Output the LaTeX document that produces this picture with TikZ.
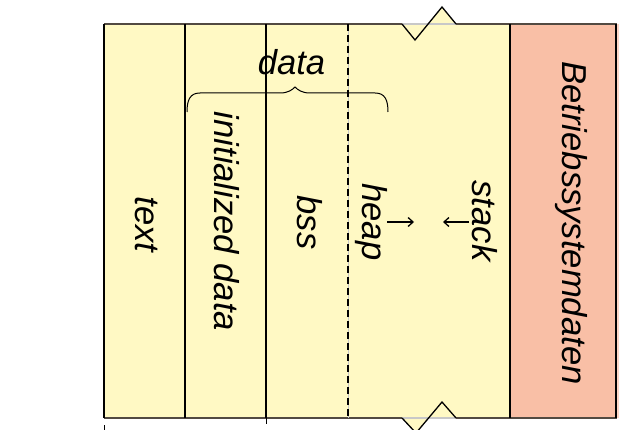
\documentclass[tikz,border=0pt]{standalone}
\usepackage{fontspec}
\setmainfont{Liberation Sans}
\usetikzlibrary{arrows.meta}
\definecolor{memyellow}{RGB}{255,249,196}
\definecolor{memred}{RGB}{249,191,166}
\definecolor{memredlight}{RGB}{252,214,198}
\definecolor{borderdark}{RGB}{82,74,66}
\definecolor{breakgray}{RGB}{200,200,200}
\begin{document}
\begin{tikzpicture}[x=1pt,y=-1pt,
  lbl/.style={font=\fontsize{34.6}{40}\selectfont\itshape, inner sep=0pt, rotate=-90, anchor=base},
  hlbl/.style={font=\fontsize{34.6}{40}\selectfont\itshape, inner sep=0pt, anchor=base},
  colline/.style={line width=1.3pt, black},
  border/.style={line width=1.6pt, borderdark},
  zig/.style={line width=1.3pt, black, line join=miter},
  growarrow/.style={line width=1.3pt, -{Straight Barb[length=5pt,width=9pt]}}]
\useasboundingbox (0,0) rectangle (628,430);
% fills
\fill[memyellow] (104,24) rectangle (510,418);
\fill[memyellow] (428.1,24) -- (442,7) -- (456,24) -- cycle;
\fill[memyellow] (402,418) -- (416,433) -- (428.6,418) -- cycle;
\fill[memred] (510,24) rectangle (616,418);
\fill[memredlight] (616,24) rectangle (619,418);
% borders
\draw[border] (104,24) -- (402,24);
\draw[line width=1.6pt, breakgray] (402,24) -- (456,24);
\draw[border] (456,24) -- (617,24);
\draw[border] (104,418) -- (402,418);
\draw[line width=1.6pt, breakgray] (402,418) -- (456,418);
\draw[border] (456,418) -- (617,418);
\draw[zig] (402,24) -- (415,40) -- (442,7) -- (456,24);
\draw[zig] (402,418) -- (416,433) -- (442,402) -- (456,418);
% vertical lines
\draw[colline] (104,24) -- (104,418);
\draw[colline] (185,24) -- (185,418);
\draw[colline] (266,24) -- (266,418);
\draw[line width=1pt, breakgray] (348,24) -- (348,418);
\draw[line width=1.1pt, black, dash pattern=on 7pt off 4pt] (348,24) -- (348,418);
\draw[colline] (510,24) -- (510,418);
\draw[colline] (616,24) -- (616,418);
% small marks below
\draw[line width=1pt, black] (104,425) -- (104,430);
\draw[line width=1pt, black] (266,418) -- (266,424);
% brace
\draw[line width=1pt] (187,112) .. controls (187,100) and (190,93) .. (200,93)
  -- (280,93) .. controls (288,93) and (292,90) .. (295,87)
  .. controls (298,90) and (302,93) .. (310,93)
  -- (375,93) .. controls (385,93) and (388,100) .. (388,112);
% labels
\node[hlbl] (data) at (291.5,75) {data};
\node[lbl] (text) at (135,224.5) {text};
\node[lbl] (init) at (214,221.5) {initialized data};
\node[lbl] (bss) at (297,222.5) {bss};
\node[lbl] (heap) at (362,222) {heap};
\node[lbl] (stack) at (472,221) {stack};
\node[lbl] (bs) at (562,223) {Betriebssystemdaten};
% growth arrows
\coordinate (heapS) at (387,222);
\coordinate (heapE) at (414,222);
\coordinate (stackS) at (469,222);
\coordinate (stackE) at (443,222);
\draw[growarrow] (heapS) -- (heapE);
\draw[growarrow] (stackS) -- (stackE);
\end{tikzpicture}
\end{document}
